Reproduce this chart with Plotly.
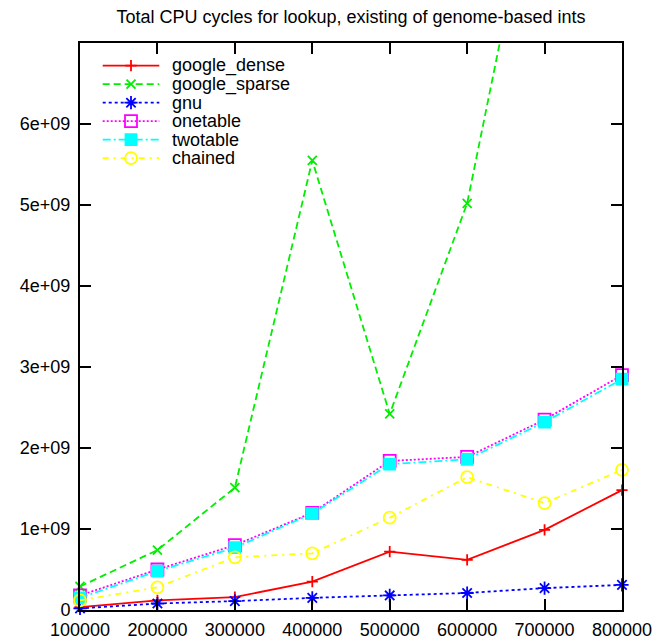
import plotly.graph_objects as go

# Table sizes (number of ints looked up)
sizes = [100000, 200000, 300000, 400000, 500000, 600000, 700000, 800000]
size_labels = ["100000", "200000", "300000", "400000", "500000", "600000", "700000", "800000"]

# Total CPU cycles per implementation
google_dense = [0.035e9, 0.12e9, 0.16e9, 0.35e9, 0.72e9, 0.62e9, 0.99e9, 1.48e9]
google_sparse = [0.29e9, 0.74e9, 1.51e9, 5.55e9, 2.42e9, 5.02e9, 9.72e9, None]
gnu = [0.02e9, 0.08e9, 0.11e9, 0.15e9, 0.18e9, 0.21e9, 0.27e9, 0.31e9]
onetable = [0.18e9, 0.50e9, 0.80e9, 1.20e9, 1.84e9, 1.89e9, 2.35e9, 2.90e9]
twotable = [0.15e9, 0.48e9, 0.77e9, 1.19e9, 1.80e9, 1.86e9, 2.32e9, 2.85e9]
chained = [0.12e9, 0.28e9, 0.65e9, 0.70e9, 1.14e9, 1.64e9, 1.32e9, 1.73e9]

y_ticks = [0, 1e9, 2e9, 3e9, 4e9, 5e9, 6e9]
y_tick_labels = ["0", "1e+09", "2e+09", "3e+09", "4e+09", "5e+09", "6e+09"]

FONT = "Liberation Sans, Arial, Helvetica, sans-serif"
W, H = 670, 641
ML, MR, MT, MB = 80, 48, 43, 31
PW, PH = W - ML - MR, H - MT - MB

styles = [
    ("google_dense", google_dense, "#ff0000", "solid", "cross-thin-open", 8),
    ("google_sparse", google_sparse, "#00ee00", "7px,4px", "x-thin-open", 9),
    ("gnu", gnu, "#0000ff", "3px,3px", "asterisk-open", 11),
    ("onetable", onetable, "#ff00ff", "2px,2px", "square-open", 12),
    ("twotable", twotable, "#00ffff", "8px,3px,2px,3px", "square", 11),
    ("chained", chained, "#ffff00", "6px,5px,2px,5px", "circle-open", 12),
]
LW = 1.8

fig = go.Figure()

for name, vals, color, dash, symbol, msize in styles:
    fig.add_trace(go.Scatter(
        x=sizes, y=vals, name=name, mode="lines+markers",
        line=dict(color=color, width=LW, dash=dash),
        marker=dict(symbol=symbol, size=msize, color=color,
                    line=dict(color=color, width=LW)),
        cliponaxis=False, connectgaps=False, showlegend=False,
        xaxis="x", yaxis="y",
    ))

# Key drawn in a pixel-scaled overlay axis (origin at the plot's top-left)
key_line = (22.7, 79.3)
key_mark = 51
key_text = 90
key_row0, key_step = 22.7, 18.5
annotations = []
for i, (name, vals, color, dash, symbol, msize) in enumerate(styles):
    ky = key_row0 + key_step * i
    fig.add_trace(go.Scatter(
        x=list(key_line), y=[ky, ky], mode="lines",
        line=dict(color=color, width=LW, dash=dash),
        showlegend=False, hoverinfo="skip", xaxis="x2", yaxis="y2",
    ))
    fig.add_trace(go.Scatter(
        x=[key_mark], y=[ky], mode="markers",
        marker=dict(symbol=symbol, size=msize, color=color,
                    line=dict(color=color, width=LW)),
        showlegend=False, hoverinfo="skip", xaxis="x2", yaxis="y2",
    ))
    annotations.append(dict(
        x=key_text, y=ky, xref="x2", yref="y2", text=name, showarrow=False,
        xanchor="left", yanchor="middle", font=dict(family=FONT, size=18, color="black"),
    ))

axis_common = dict(
    showgrid=False, zeroline=False, showline=True, linecolor="black", linewidth=2,
    mirror="ticks", ticks="inside", ticklen=11, tickwidth=2, tickcolor="black",
    tickfont=dict(family=FONT, size=18, color="black"), automargin=False,
)

fig.update_layout(
    width=W, height=H,
    margin=dict(l=ML, r=MR, t=MT, b=MB),
    paper_bgcolor="white", plot_bgcolor="white",
    title=dict(
        text="Total CPU cycles for lookup, existing of genome-based ints",
        font=dict(family=FONT, size=18, color="black"),
        x=0.5, xref="paper", xanchor="center",
        y=1 - 17 / H, yref="container", yanchor="middle",
    ),
    xaxis=dict(range=[100000, 800000], tickvals=sizes, ticktext=size_labels,
               ticklabelstandoff=2, **axis_common),
    yaxis=dict(range=[0, 7e9], tickvals=y_ticks, ticktext=y_tick_labels,
               ticklabelstandoff=4, **axis_common),
    xaxis2=dict(range=[0, PW], overlaying="x", visible=False, fixedrange=True),
    yaxis2=dict(range=[PH, 0], overlaying="y", visible=False, fixedrange=True),
    annotations=annotations,
    showlegend=False,
)

fig.write_html("out.html")
